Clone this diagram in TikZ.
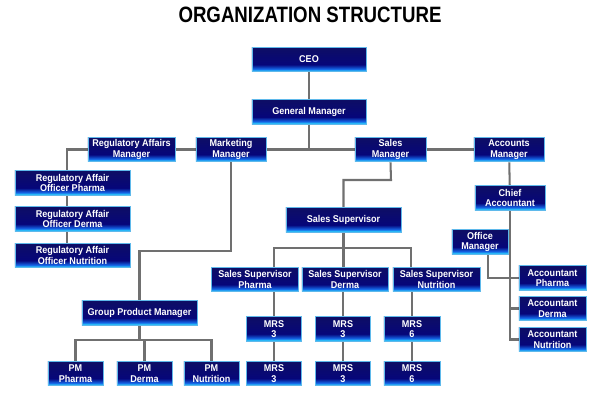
\documentclass[tikz,border=0pt]{standalone}
\usepackage{fontspec}
\setmainfont{Liberation Sans}
\newfontfamily\boxfont[FakeStretch=0.92]{Liberation Sans}
\newfontfamily\titlefont[FakeStretch=0.84]{Liberation Sans}
\usetikzlibrary{calc, backgrounds}
\definecolor{boxtop}{RGB}{14,14,100}
\definecolor{boxnavy}{RGB}{6,6,122}
\definecolor{boxblue}{RGB}{20,100,230}
\definecolor{boxcyan}{RGB}{45,205,252}
\definecolor{boxedge}{RGB}{95,185,235}
\definecolor{linegray}{RGB}{112,112,112}
\pgfdeclareverticalshading{orgshade}{100bp}{color(0bp)=(boxcyan); color(25bp)=(boxcyan); color(27bp)=(boxcyan); color(31bp)=(boxblue); color(40bp)=(boxnavy); color(75bp)=(boxtop); color(100bp)=(boxtop)}
\tikzset{
  orgbox/.style={shade, shading=orgshade, draw=boxedge, line width=0.6pt, text=white,
    font=\boxfont\bfseries\fontsize{7}{7.4}\selectfont, align=center,
    minimum height=0.62cm, inner sep=1pt},
  link/.style={draw=linegray, line width=1.45pt},
}

\begin{document}
\begin{tikzpicture}[x=0.025cm, y=-0.025cm]
  \useasboundingbox (0,0) rectangle (600,400);
  \node[font=\titlefont\bfseries\fontsize{15.8}{18}\selectfont] (title) at (310,15) {ORGANIZATION STRUCTURE};

  % top
  \node[orgbox, minimum width=2.85cm] (ceo) at (309,59.5) {CEO};
  \node[orgbox, minimum width=2.85cm] (gm) at (309,112) {General Manager};

  % managers
  \node[orgbox, minimum width=2.175cm] (ram) at (131.5,149.5) {Regulatory Affairs\\Manager};
  \node[orgbox, minimum width=1.75cm] (mm) at (231,149.5) {Marketing\\Manager};
  \node[orgbox, minimum width=1.775cm] (sm) at (390.5,149.5) {Sales\\Manager};
  \node[orgbox, minimum width=1.75cm] (am) at (509,149.5) {Accounts\\Manager};

  % regulatory
  \node[orgbox, minimum width=2.875cm] (rao1) at (72.5,183) {Regulatory Affair\\Officer Pharma};
  \node[orgbox, minimum width=2.875cm] (rao2) at (72.5,219) {Regulatory Affair\\Officer Derma};
  \node[orgbox, minimum width=2.875cm] (rao3) at (72.5,255.5) {Regulatory Affair\\Officer Nutrition};

  % marketing
  \node[orgbox, minimum width=2.875cm] (gpm) at (139.5,313) {Group Product Manager};
  \node[orgbox, minimum width=1.375cm] (pm1) at (75.5,373.5) {PM\\Pharma};
  \node[orgbox, minimum width=1.375cm] (pm2) at (144.5,373.5) {PM\\Derma};
  \node[orgbox, minimum width=1.375cm] (pm3) at (211.5,373.5) {PM\\Nutrition};

  % sales
  \node[orgbox, minimum width=2.875cm] (ss) at (343.5,220) {Sales Supervisor};
  \node[orgbox, minimum width=2.175cm] (ssp) at (255,279.5) {Sales Supervisor\\Pharma};
  \node[orgbox, minimum width=2.15cm] (ssd) at (345,279.5) {Sales Supervisor\\Derma};
  \node[orgbox, minimum width=2.175cm] (ssn) at (436.5,279.5) {Sales Supervisor\\Nutrition};
  \node[orgbox, minimum width=1.375cm] (mrs1a) at (274,329) {MRS\\3};
  \node[orgbox, minimum width=1.375cm] (mrs1b) at (274,373.5) {MRS\\3};
  \node[orgbox, minimum width=1.375cm] (mrs2a) at (343,329) {MRS\\3};
  \node[orgbox, minimum width=1.375cm] (mrs2b) at (343,373.5) {MRS\\3};
  \node[orgbox, minimum width=1.4cm] (mrs3a) at (412,329) {MRS\\6};
  \node[orgbox, minimum width=1.4cm] (mrs3b) at (412,373.5) {MRS\\6};

  % accounts
  \node[orgbox, minimum width=1.75cm] (ca) at (510,198) {Chief\\Accountant};
  \node[orgbox, minimum width=1.4cm] (om) at (480,242) {Office\\Manager};
  \node[orgbox, minimum width=1.675cm] (ap) at (552.5,278) {Accountant\\Pharma};
  \node[orgbox, minimum width=1.675cm] (ad) at (552.5,308.5) {Accountant\\Derma};
  \node[orgbox, minimum width=1.675cm] (an) at (552.5,339.5) {Accountant\\Nutrition};

  % connectors
  \begin{scope}[on background layer]
    \coordinate (busL) at (67,149.5);
    \coordinate (mkturn) at (231,251);
    \coordinate (pmbus) at (0,340);
    \coordinate (smturn) at (391,180);
    \coordinate (ssbusL) at (274,248);
    \coordinate (ssbusR) at (411,248);
    \draw[link] (ceo) -- (gm);
    \draw[link] (gm.south) -- (gm.south |- busL);
    \draw[link] (rao3.north -| busL) -- (busL) -- (am.west);
    \draw[link] (mm.south) -- (mkturn) -| (gpm.north);
    \draw[link] (gpm.south) -- (gpm.south |- pmbus);
    \draw[link] (pm1.north) -- (pm1.north |- pmbus) -- (pm3.north |- pmbus) -- (pm3.north);
    \draw[link] (pm2.north) -- (pm2.north |- pmbus);
    \draw[link] (sm.south) -- (smturn) -| (ss.north);
    \draw[link] (ssp.north -| ssbusL) -- (ssbusL) -- (ssbusR) -- (ssn.north -| ssbusR);
    \draw[link] (ss.south) -- (ss.south |- ssd.north);
    \draw[link] (ssp.south -| mrs1b) -- (mrs1b.north);
    \draw[link] (ssd.south -| mrs2b) -- (mrs2b.north);
    \draw[link] (ssn.south -| mrs3b) -- (mrs3b.north);
    \draw[link] (am) -- (ca);
    \draw[link] (ca.south) |- (an.west);
    \draw[link] (ad.west) -- (ad.west -| ca.south);
    \draw[link] ($(om.south)+(8,0)$) |- (ap.west);
  \end{scope}
\end{tikzpicture}
\end{document}
